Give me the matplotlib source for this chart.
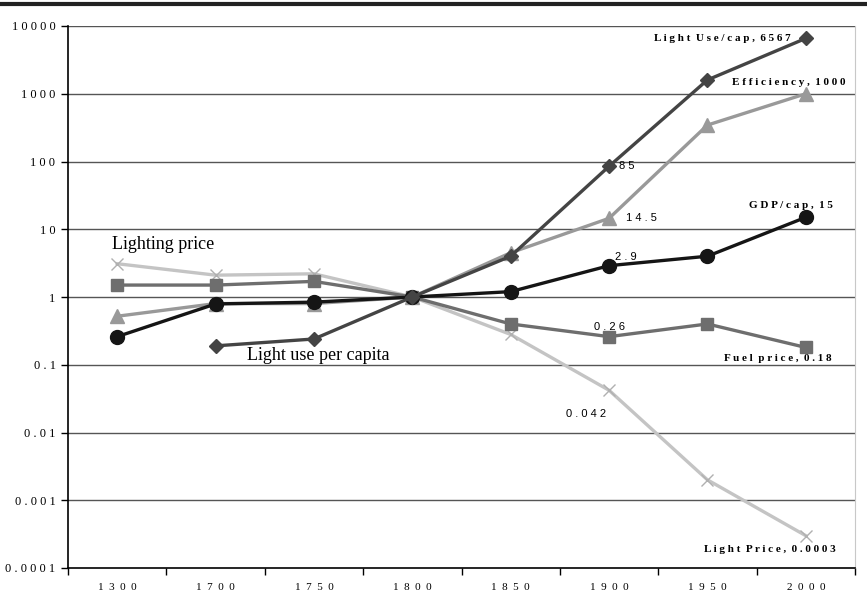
import numpy as np
import matplotlib
matplotlib.use("Agg")
import matplotlib.pyplot as plt
from matplotlib.lines import Line2D

years = ["1300", "1700", "1750", "1800", "1850", "1900", "1950", "2000"]

light_price = [3.1, 2.1, 2.2, 1.0, 0.28, 0.042, 0.002, 0.0003]
fuel_price = [1.5, 1.5, 1.7, 1.0, 0.40, 0.26, 0.40, 0.18]
efficiency = [0.52, 0.8, 0.8, 1.0, 4.5, 14.5, 345, 1000]
gdp_cap = [0.26, 0.79, 0.84, 1.0, 1.2, 2.9, 4.0, 15]
light_use = [np.nan, 0.19, 0.24, 1.0, 4.0, 85, 1600, 6567]

yticks = [0.0001, 0.001, 0.01, 0.1, 1, 10, 100, 1000, 10000]
ytick_labels = ["0.0001", "0.001", "0.01", "0.1", "1", "10", "100", "1000", "10000"]

serif = "Liberation Serif"
sans = "Liberation Sans"


def spaced(s, gap="  "):
    # wide letter spacing like the original
    return gap.join(s)


fig = plt.figure(figsize=(8.67, 5.95), dpi=100)
ax = fig.add_axes([68 / 867, 27 / 595, 787 / 867, 542 / 595])

x = np.arange(len(years))

ax.plot(x, light_price, color="#c4c4c4", lw=2.4, marker="x", ms=9, mew=1.0,
        mec="#b0b0b0", zorder=3)
ax.plot(x, fuel_price, color="#6e6e6e", lw=2.4, marker="s", ms=8.5, zorder=4)
ax.plot(x, efficiency, color="#999999", lw=2.4, marker="^", ms=10, zorder=5)
ax.plot(x, gdp_cap, color="#151515", lw=2.4, marker="o", ms=10, zorder=6)
ax.plot(x, light_use, color="#444444", lw=2.4, marker="D", ms=7, zorder=7)

ax.set_yscale("log")
ax.set_ylim(0.0001, 10000)
ax.set_xlim(-0.5, len(years) - 0.5)

ax.set_yticks(yticks)
ax.set_yticklabels([spaced(t, " ") for t in ytick_labels], fontfamily=serif, fontsize=9)
ax.yaxis.set_minor_locator(matplotlib.ticker.NullLocator())
ax.tick_params(axis="y", length=5, width=1, color="black", pad=4)

ax.set_xticks(x)
ax.set_xticklabels([spaced(t) for t in years], fontfamily=serif, fontsize=8)
ax.set_xticks(np.arange(-0.5, len(years)), minor=True)
ax.tick_params(axis="x", which="major", length=0, pad=11)
ax.tick_params(axis="x", which="minor", length=5, width=1, color="black")

for v in yticks[1:]:
    ax.axhline(v, color="#555555", lw=1.0, zorder=1)

ax.spines["top"].set_visible(False)
ax.spines["right"].set_color("#c8c8c8")
ax.spines["left"].set_color("black")
ax.spines["bottom"].set_color("black")
ax.spines["left"].set_linewidth(1.2)
ax.spines["bottom"].set_linewidth(1.2)

# end labels (bold serif)
kw = dict(fontfamily=serif, fontweight="bold", fontsize=8, ha="right", va="center")
ax.text(6.85, 6650, "L i g h t  U s e / c a p ,  6 5 6 7", **kw)
ax.text(7.4, 1450, "E f f i c i e n c y ,  1 0 0 0", **kw)
ax.text(7.28, 22.5, "G D P / c a p ,  1 5", **kw)
ax.text(7.26, 0.125, "F u e l  p r i c e ,  0 . 1 8", **kw)
ax.text(7.3, 0.00019, "L i g h t  P r i c e ,  0 . 0 0 0 3", **kw)

# point labels
kw2 = dict(fontfamily=sans, fontsize=8, va="center")
ax.text(5.1, 85, "8 5", ha="left", **kw2)
ax.text(5.17, 14.5, "1 4 . 5", ha="left", **kw2)
ax.text(5.06, 3.9, "2 . 9", ha="left", **kw2)
ax.text(5.0, 0.36, "0 . 2 6", ha="center", **kw2)
ax.text(4.77, 0.0185, "0 . 0 4 2", ha="center", **kw2)

ax.text(-0.05, 6.05, "Lighting price", fontfamily=serif, fontsize=13,
        ha="left", va="center")
ax.text(1.32, 0.135, "Light use per capita", fontfamily=serif, fontsize=13,
        ha="left", va="center")

# thick rule across the top
fig.add_artist(Line2D([0, 1], [1 - 4 / 595, 1 - 4 / 595], color="#222222",
                      lw=3, transform=fig.transFigure))

fig.savefig("out.png", dpi=100)
